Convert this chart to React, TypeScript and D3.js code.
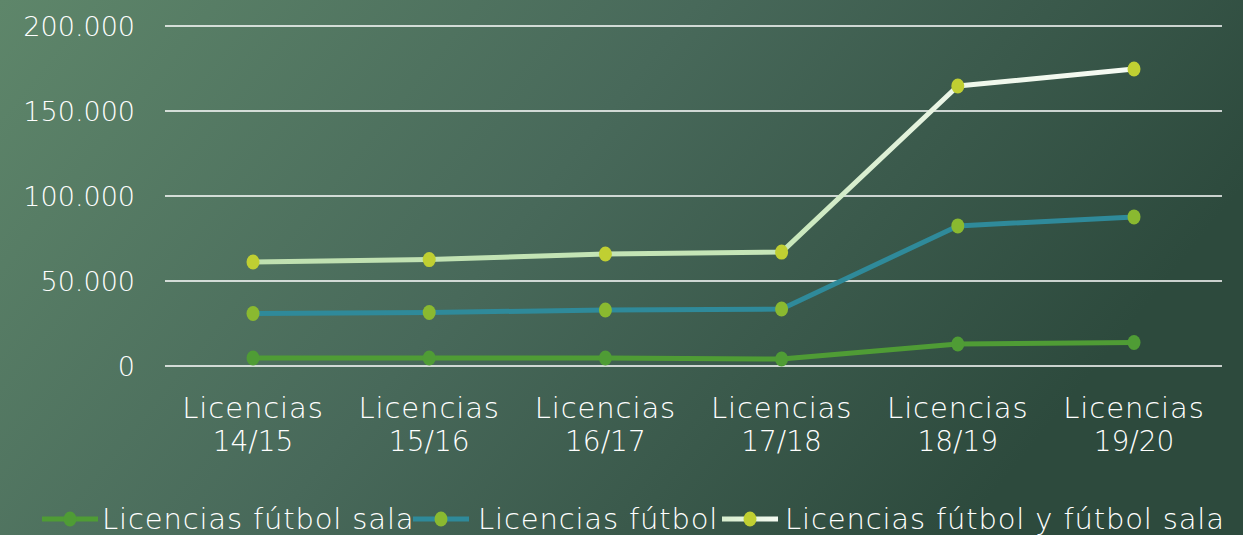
import React from "react";
import * as d3 from "d3";

const categories = ["Licencias 14/15", "Licencias 15/16", "Licencias 16/17", "Licencias 17/18", "Licencias 18/19", "Licencias 19/20"];
const futsal = [4700, 4700, 4700, 4100, 12900, 13800];
const futbol = [30900, 31500, 32900, 33500, 82400, 87700];
const total = [61200, 62600, 65900, 67000, 164700, 174700];
const yTicks = [0, 50000, 100000, 150000, 200000];
const seriesNames = ["Licencias fútbol sala", "Licencias fútbol", "Licencias fútbol y fútbol sala"];

const W = 1243, H = 535;
const FONT = "'DejaVu Sans', sans-serif";

export default function App() {
  const x = d3.scalePoint<string>().domain(categories).range([253, 1134]);
  const y = d3.scaleLinear().domain([0, 200000]).range([366, 26]);
  const fmt = (v: number) => (v === 0 ? "0" : d3.format(",")(v).replace(/,/g, "."));
  const line = d3.line<number>().x((_, i) => x(categories[i]) as number).y((d) => y(d));

  const series = [
    { name: seriesNames[0], values: futsal, stroke: "#4f9c35", marker: "#4f9c35" },
    { name: seriesNames[1], values: futbol, stroke: "#2f8a9a", marker: "#8ab930" },
    { name: seriesNames[2], values: total, stroke: "url(#totGrad)", marker: "#c0cf32" },
  ];

  const legendItems = [
    { lx: 42, tx: 102 },
    { lx: 413, tx: 478 },
    { lx: 722, tx: 785 },
  ];

  return (
    <svg width={W} height={H} style={{ position: "absolute", left: 0, top: 0 }} fontFamily={FONT}>
      <defs>
        <linearGradient id="bg" x1="0" y1="0" x2="1" y2="0.35">
          <stop offset="0" stopColor="#5e866a" />
          <stop offset="0.5" stopColor="#48695a" />
          <stop offset="1" stopColor="#2d4a3d" />
        </linearGradient>
        <linearGradient id="totGrad" gradientUnits="userSpaceOnUse" x1="253" y1="0" x2="1134" y2="0">
          <stop offset="0" stopColor="#bfe0b0" />
          <stop offset="0.6" stopColor="#c6e6b8" />
          <stop offset="0.8" stopColor="#eef7ea" />
          <stop offset="1" stopColor="#f6fbf3" />
        </linearGradient>
        <linearGradient id="legGrad" gradientUnits="userSpaceOnUse" x1="722" y1="0" x2="778" y2="0">
          <stop offset="0" stopColor="#d8eece" />
          <stop offset="1" stopColor="#f4faf1" />
        </linearGradient>
      </defs>
      <rect x={0} y={0} width={W} height={H} fill="url(#bg)" />

      {yTicks.map((t) => (
        <g key={t}>
          <line x1={165} x2={1222} y1={y(t)} y2={y(t)} stroke="#ffffff" strokeWidth={1.6} />
          <text x={135} y={y(t)} dy="0.36em" textAnchor="end" fill="#ffffff" fontSize={27} fontWeight={200}>
            {fmt(t)}
          </text>
        </g>
      ))}

      {categories.map((c) => {
        const parts = c.split(" ");
        return (
          <text key={c} textAnchor="middle" fill="#ffffff" fontWeight={200}>
            <tspan x={x(c)} y={418} fontSize={29} letterSpacing={0.9}>{parts[0]}</tspan>
            <tspan x={x(c)} y={451} fontSize={28}>{parts[1]}</tspan>
          </text>
        );
      })}

      {series.map((s) => (
        <g key={s.name}>
          <path d={line(s.values) || ""} fill="none" stroke={s.stroke} strokeWidth={5} strokeLinejoin="round" />
          {s.values.map((v, i) => (
            <ellipse key={i} cx={x(categories[i])} cy={y(v)} rx={6.5} ry={7.5} fill={s.marker} />
          ))}
        </g>
      ))}

      {series.map((s, i) => {
        const it = legendItems[i];
        return (
          <g key={"leg" + i}>
            <line x1={it.lx} x2={it.lx + 56} y1={519} y2={519} stroke={i === 2 ? "url(#legGrad)" : s.stroke} strokeWidth={5} />
            <ellipse cx={it.lx + 28} cy={519} rx={6.5} ry={7.5} fill={s.marker} />
            <text x={it.tx} y={519} dy="0.36em" fill="#ffffff" fontSize={29} letterSpacing={0.85} fontWeight={200}>
              {s.name}
            </text>
          </g>
        );
      })}
    </svg>
  );
}
